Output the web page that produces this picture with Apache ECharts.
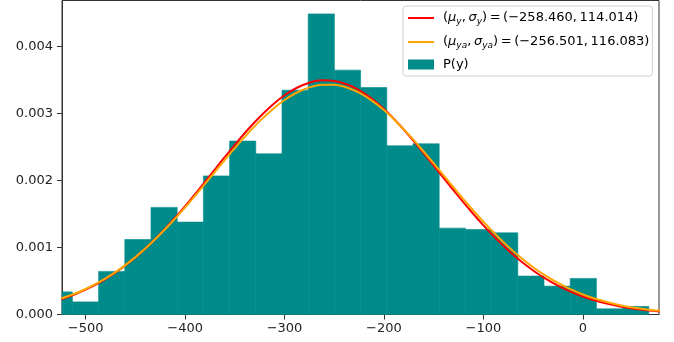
<!DOCTYPE html>
<html><head><meta charset="utf-8">
<script src="https://cdn.jsdelivr.net/npm/echarts@6/dist/echarts.min.js"></script>
<style>html,body{margin:0;padding:0;background:#fff}#c{width:674px;height:342px}</style>
</head><body><div id="c"></div>
<script>
// Histogram bin edges and densities
const binEdges = [-539.7, -513.35, -487.0, -460.65, -434.3, -407.95, -381.6, -355.25, -328.9, -302.55,
  -276.2, -249.85, -223.5, -197.15, -170.8, -144.45, -118.1, -91.75, -65.4, -39.05, -12.7, 13.65, 40.0, 66.35];
const binDensity = [0.000338, 0.000188, 0.000644, 0.00112, 0.0016, 0.00138, 0.00207, 0.00259, 0.0024, 0.00335,
  0.00449, 0.00365, 0.00339, 0.00252, 0.00255, 0.00129, 0.00127, 0.00122, 0.000574, 0.000424, 0.000539, 0.000085, 0.00012];
// Fitted curves
const curveX = [-525, -512.5, -500, -487.5, -475, -462.5, -450, -437.5, -425, -412.5, -400, -387.5, -375, -362.5,
  -350, -337.5, -325, -312.5, -300, -287.5, -275, -262.5, -250, -237.5, -225, -212.5, -200, -187.5, -175, -162.5,
  -150, -137.5, -125, -112.5, -100, -87.5, -75, -62.5, -50, -37.5, -25, -12.5, 0, 12.5, 25, 37.5, 50, 62.5, 75, 100];
const redY = [0.000228, 0.000292, 0.000371, 0.000465, 0.000576, 0.000706, 0.000853, 0.001020, 0.001204, 0.001405,
  0.001619, 0.001844, 0.002075, 0.002308, 0.002535, 0.002752, 0.002951, 0.003127, 0.003274, 0.003387,
  0.003462, 0.003497, 0.003489, 0.003440, 0.003352, 0.003226, 0.003068, 0.002883, 0.002677, 0.002455,
  0.002226, 0.001993, 0.001764, 0.001542, 0.001332, 0.001137, 0.000959, 0.000799, 0.000658, 0.000535,
  0.000430, 0.000342, 0.000268, 0.000208, 0.000159, 0.000120, 0.000090, 0.000067, 0.000049, 0.000025];
const orangeY = [0.000237, 0.000302, 0.000381, 0.000475, 0.000585, 0.000712, 0.000857, 0.001019, 0.001199, 0.001393,
  0.001601, 0.001818, 0.002041, 0.002265, 0.002485, 0.002694, 0.002888, 0.003059, 0.003204, 0.003316,
  0.003393, 0.003432, 0.003431, 0.003391, 0.003313, 0.003199, 0.003053, 0.002880, 0.002686, 0.002476,
  0.002256, 0.002032, 0.001809, 0.001592, 0.001385, 0.001191, 0.001012, 0.000851, 0.000706, 0.000580,
  0.000471, 0.000378, 0.000299, 0.000235, 0.000182, 0.000139, 0.000105, 0.000079, 0.000058, 0.000031];
const xTicks = [-500, -400, -300, -200, -100, 0];
const yTicks = [0, 0.001, 0.002, 0.003, 0.004];
const nameRed = 'red';
const nameOrange = 'orange';
const nameHist = 'P(y)';

const histData = binDensity.map((d, i) => [binEdges[i], binEdges[i + 1], d]);
const redData = curveX.map((x, i) => [x, redY[i]]);
const orangeData = curveX.map((x, i) => [x, orangeY[i]]);

const FONT = 'DejaVu Sans';
const chart = echarts.init(document.getElementById('c'), null, {renderer: 'canvas'});
const fmtMinus = v => String(v).replace('-', '\u2212');
const TS = '\u2009';

chart.setOption({
  animation: false,
  backgroundColor: '#fff',
  grid: {left: 62, right: 15, top: 0.5, bottom: 27.5, show: true, borderColor: '#333', borderWidth: 1, backgroundColor: 'transparent'},
  xAxis: {
    type: 'value', min: -523.8, max: 76.6,
    axisLine: {show: true, onZero: false, lineStyle: {color: '#333', width: 1}},
    axisTick: {show: true, length: 5, customValues: xTicks, lineStyle: {color: '#333'}},
    axisLabel: {customValues: xTicks, formatter: v => fmtMinus(v), margin: 8, color: '#222', fontSize: 13, fontFamily: FONT},
    splitLine: {show: false}
  },
  yAxis: {
    type: 'value', min: 0, max: 0.00469,
    axisLine: {show: true, onZero: false, lineStyle: {color: '#333', width: 1}},
    axisTick: {show: true, length: 5, customValues: yTicks, lineStyle: {color: '#333'}},
    axisLabel: {customValues: yTicks, formatter: v => v.toFixed(3), margin: 9, color: '#222', fontSize: 13, fontFamily: FONT},
    splitLine: {show: false}
  },
  legend: {
    orient: 'vertical', left: 403, top: 6,
    padding: [4, 3, 5, 5],
    itemGap: 8, itemWidth: 26, itemHeight: 14,
    backgroundColor: 'rgba(255,255,255,0.85)', borderColor: '#d0d0d0', borderWidth: 1, borderRadius: 3,
    data: [
      {name: nameRed, icon: 'path://M0,0H26V2H0Z'},
      {name: nameOrange, icon: 'path://M0,0H26V2H0Z'},
      {name: nameHist, icon: 'path://M0,0H26V10H0Z'}
    ],
    formatter: function (name) {
      if (name === nameRed) return '{t|(}{i|μ}{s|y}{t|,' + TS + '}{i|σ}{s|y}{t|)' + TS + '=' + TS + '(−258.460,' + TS + '114.014)}';
      if (name === nameOrange) return '{t|(}{i|μ}{s|ya}{t|,' + TS + '}{i|σ}{s|ya}{t|)' + TS + '=' + TS + '(−256.501,' + TS + '116.083)}';
      return '{t|P(y)}';
    },
    textStyle: {
      fontFamily: FONT, fontSize: 13, color: '#000', padding: [0, 0, 0, 4],
      width: 194, overflow: 'none',
      rich: {
        t: {fontFamily: FONT, fontSize: 13, color: '#000', lineHeight: 16},
        i: {fontFamily: FONT, fontSize: 13, fontStyle: 'italic', color: '#000', lineHeight: 16},
        s: {fontFamily: FONT, fontSize: 9, fontStyle: 'italic', color: '#000', lineHeight: 16, padding: [7, 0, 0, 0]}
      }
    }
  },
  series: [
    {
      name: nameHist, type: 'custom',
      itemStyle: {color: '#008b8b'},
      encode: {x: [0, 1], y: 2},
      data: histData,
      renderItem: function (params, api) {
        const p0 = api.coord([api.value(0), api.value(2)]);
        const p1 = api.coord([api.value(1), 0]);
        const shape = echarts.graphic.clipRectByRect(
          {x: p0[0], y: p0[1], width: p1[0] - p0[0], height: p1[1] - p0[1]},
          {x: params.coordSys.x, y: params.coordSys.y, width: params.coordSys.width, height: params.coordSys.height});
        if (!shape) return;
        return {type: 'rect', shape: shape, style: {fill: '#008b8b', stroke: '#008b8b', lineWidth: 0.6}};
      }
    },
    {
      name: nameRed, type: 'line', data: redData, smooth: 0.3, showSymbol: false, symbol: 'none',
      lineStyle: {color: '#ff0000', width: 2}, itemStyle: {color: '#ff0000'}
    },
    {
      name: nameOrange, type: 'line', data: orangeData, smooth: 0.3, showSymbol: false, symbol: 'none',
      lineStyle: {color: '#ffa500', width: 2}, itemStyle: {color: '#ffa500'}
    }
  ]
});
</script>
</body></html>
